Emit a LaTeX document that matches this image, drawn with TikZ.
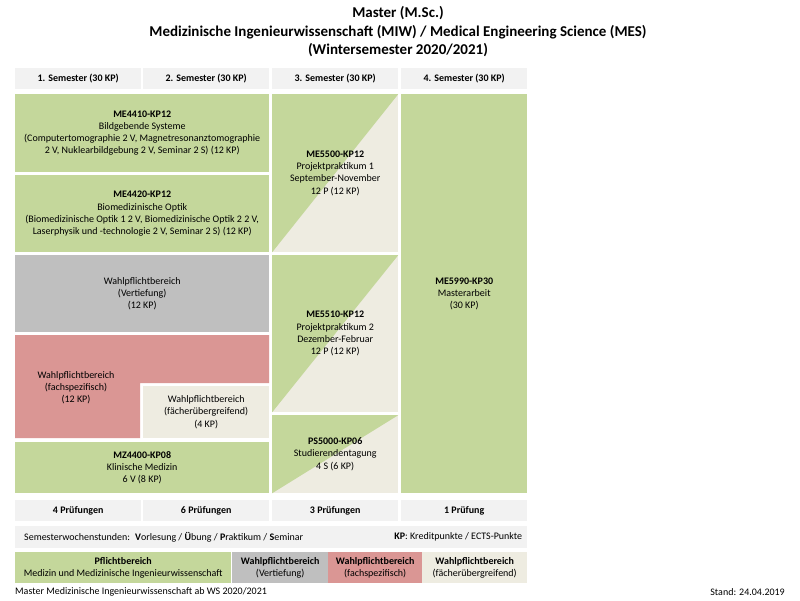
\documentclass[tikz,border=0pt]{standalone}
\usepackage{fontspec}
\setmainfont{Carlito}
\definecolor{pflicht}{HTML}{C4D79B}
\definecolor{vertief}{HTML}{BFBFBF}
\definecolor{fachsp}{HTML}{DA9694}
\definecolor{uebergr}{HTML}{EEECE1}
\definecolor{kopfgrau}{HTML}{F2F2F2}
\tikzset{
  feld/.style={anchor=north west,inner sep=0pt,align=center,font=\fontsize{10}{12.2}\selectfont},
  kopf/.style={feld,fill=kopfgrau,minimum width=126pt,minimum height=21pt,font=\bfseries\fontsize{10}{12}\selectfont},
  halb/.style={feld,fill=uebergr,minimum width=126pt,path picture={\fill[pflicht] (path picture bounding box.north west) -- (path picture bounding box.north east) -- (path picture bounding box.south west) -- cycle;}},
  legende/.style={feld,minimum height=31pt,font=\fontsize{10}{12.5}\selectfont},
  fuss/.style={inner sep=0pt,font=\fontsize{10}{12}\selectfont}
}
\begin{document}
\begin{tikzpicture}[x=1pt,y=-1pt]
\fill[white] (0,0) rectangle (800,600);
\useasboundingbox (0,0) rectangle (800,600);
\node[align=center,font=\bfseries\fontsize{15}{18.5}\selectfont] (titel) at (398,32) {Master (M.Sc.)\\Medizinische Ingenieurwissenschaft (MIW) / Medical Engineering Science (MES)\\(Wintersemester 2020/2021)};
\foreach \x/\n in {15/1,143/2,272/3,401/4}
  \node[kopf] (sem\n) at (\x,68) {\n. Semester (30 KP)};
\node[feld,fill=pflicht,minimum width=254pt,minimum height=78pt] (me4410) at (15,94) {\textbf{ME4410-KP12}\\Bildgebende Systeme\\(Computertomographie 2 V, Magnetresonanztomographie\\2 V, Nuklearbildgebung 2 V, Seminar 2 S) (12 KP)};
\node[feld,fill=pflicht,minimum width=254pt,minimum height=77pt] (me4420) at (15,175) {\textbf{ME4420-KP12}\\Biomedizinische Optik\\(Biomedizinische Optik 1 2 V, Biomedizinische Optik 2 2 V,\\Laserphysik und -technologie 2 V, Seminar 2 S) (12 KP)};
\node[feld,fill=vertief,minimum width=254pt,minimum height=77pt] (vertiefung) at (15,255) {Wahlpflichtbereich\\(Vertiefung)\\(12 KP)};
\fill[fachsp] (15,335) -| (269,383) -| (140,438) -| cycle;
\node[feld,anchor=center] (fachspez) at (76,388) {Wahlpflichtbereich\\(fachspezifisch)\\(12 KP)};
\node[feld,fill=uebergr,minimum width=126pt,minimum height=52pt] (ueber) at (143,386) {Wahlpflichtbereich\\(fächerübergreifend)\\(4 KP)};
\node[feld,fill=pflicht,minimum width=254pt,minimum height=51pt] (mz4400) at (15,442) {\textbf{MZ4400-KP08}\\Klinische Medizin\\6 V (8 KP)};
\node[halb,minimum height=158pt] (me5500) at (272,94) {\textbf{ME5500-KP12}\\Projektpraktikum 1\\September-November\\12 P (12 KP)};
\node[halb,minimum height=157pt] (me5510) at (272,255) {\textbf{ME5510-KP12}\\Projektpraktikum 2\\Dezember-Februar\\12 P (12 KP)};
\node[halb,minimum height=78pt] (ps5000) at (272,415) {\textbf{PS5000-KP06}\\Studierendentagung\\4 S (6 KP)};
\node[feld,fill=pflicht,minimum width=126pt,minimum height=399pt] (me5990) at (401,94) {\textbf{ME5990-KP30}\\Masterarbeit\\(30 KP)};
\foreach \x/\n/\t in {15/1/4 Prüfungen,143/2/6 Prüfungen,272/3/3 Prüfungen,401/4/1 Prüfung}
  \node[kopf] (pr\n) at (\x,500) {\t};
\node[feld,fill=kopfgrau,minimum width=512pt,minimum height=22pt] (swst) at (15,526) {};
\node[fuss,anchor=west] (swsttext) at ([xshift=9pt]swst.west) {Semesterwochenstunden:\enspace\textbf{V}orlesung / \textbf{Ü}bung / \textbf{P}raktikum / \textbf{S}eminar};
\node[fuss,anchor=east] (kptext) at ([xshift=-5pt]swst.east) {\textbf{KP}: Kreditpunkte / ECTS-Punkte};
\node[legende,fill=pflicht,minimum width=216pt] (lpflicht) at (15,552) {\textbf{Pflichtbereich}\\Medizin und Medizinische Ingenieurwissenschaft};
\node[legende,fill=vertief,minimum width=96pt] (lvertief) at (232,552) {\textbf{Wahlpflichtbereich}\\(Vertiefung)};
\node[legende,fill=fachsp,minimum width=94pt] (lfach) at (328,552) {\textbf{Wahlpflichtbereich}\\(fachspezifisch)};
\node[legende,fill=uebergr,minimum width=105pt] (lueber) at (422,552) {\textbf{Wahlpflichtbereich}\\(fächerübergreifend)};
\node[fuss,anchor=west] (quelle) at (15,592) {Master Medizinische Ingenieurwissenschaft ab WS 2020/2021};
\node[fuss,anchor=east] (stand) at (785,592) {Stand: 24.04.2019};
\end{tikzpicture}
\end{document}
